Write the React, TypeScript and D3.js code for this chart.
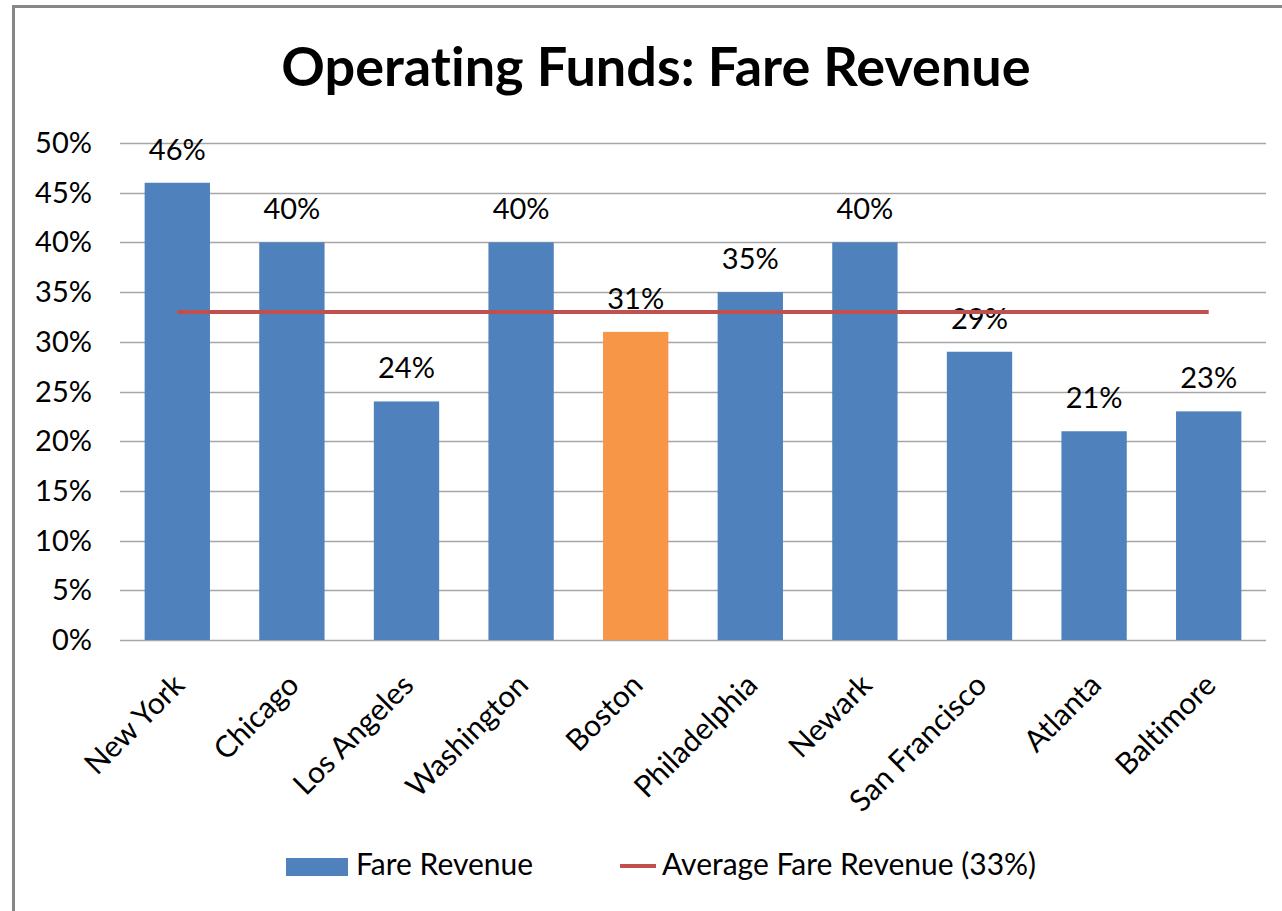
import React from "react";
import * as d3 from "d3";

const title = "Operating Funds: Fare Revenue";
const categories = ["New York", "Chicago", "Los Angeles", "Washington", "Boston", "Philadelphia", "Newark", "San Francisco", "Atlanta", "Baltimore"];
const fareRevenue = [46, 40, 24, 40, 31, 35, 40, 29, 21, 23];
const highlighted = ["Boston"];
const averageValue = 33;
const yTicks = [0, 5, 10, 15, 20, 25, 30, 35, 40, 45, 50];
const seriesName = "Fare Revenue";
const averageName = "Average Fare Revenue (33%)";

const W = 1282;
const H = 911;
const FONT = "Lato, 'Liberation Sans', sans-serif";
const BLUE = "#4F81BD";
const ORANGE = "#F79646";
const RED = "#C0504D";
const GRID = "#A6A6A6";

export default function App() {
  const left = 120, right = 1266, top = 143, bottom = 640;
  const x = d3.scaleBand<string>().domain(categories).range([left, right]).paddingInner(0.43).paddingOuter(0.215);
  const y = d3.scaleLinear().domain([0, 50]).range([bottom, top]);
  const fmt = (v: number) => `${v}%`;
  const cx = (c: string) => (x(c) as number) + x.bandwidth() / 2;

  return (
    <svg width={W} height={H} style={{ position: "absolute", left: 0, top: 0, background: "#fff", fontVariantLigatures: "none" }} fontFamily={FONT}>
      <rect x={0} y={0} width={W} height={H} fill="#fff" />
      <rect x={13.5} y={6.5} width={W + 20} height={H + 20} fill="none" stroke="#878787" strokeWidth={3} />
      <text x={656} y={86} textAnchor="middle" fontSize={54} fontWeight="bold" fill="#000">{title}</text>

      {yTicks.map((t) => (
        <g key={t}>
          <line x1={left} x2={right} y1={Math.round(y(t)) + 0.5} y2={Math.round(y(t)) + 0.5} stroke={GRID} strokeWidth={1.5} />
          <text x={92} y={y(t) + 10} textAnchor="end" fontSize={29} fill="#000">{fmt(t)}</text>
        </g>
      ))}

      {categories.map((c, i) => (
        <rect key={c} x={x(c)} y={y(fareRevenue[i])} width={x.bandwidth()} height={bottom - y(fareRevenue[i])}
          fill={highlighted.includes(c) ? ORANGE : BLUE} />
      ))}

      {categories.map((c, i) => (
        <text key={c} x={cx(c)} y={y(fareRevenue[i]) - 23} textAnchor="middle" fontSize={29} fill="#000">{fmt(fareRevenue[i])}</text>
      ))}

      <line x1={cx(categories[0])} x2={cx(categories[categories.length - 1])} y1={y(averageValue)} y2={y(averageValue)}
        stroke={RED} strokeWidth={4} />

      {categories.map((c) => (
        <text key={c} transform={`translate(${cx(c) + 9},${687}) rotate(-45)`} textAnchor="end" fontSize={30} fill="#000">{c}</text>
      ))}

      <rect x={286} y={858} width={62} height={18} fill={BLUE} />
      <text x={356} y={875} fontSize={30} fill="#000">{seriesName}</text>
      <line x1={620} x2={656} y1={866} y2={866} stroke={RED} strokeWidth={4} />
      <text x={662} y={875} fontSize={30} fill="#000">{averageName}</text>
    </svg>
  );
}
